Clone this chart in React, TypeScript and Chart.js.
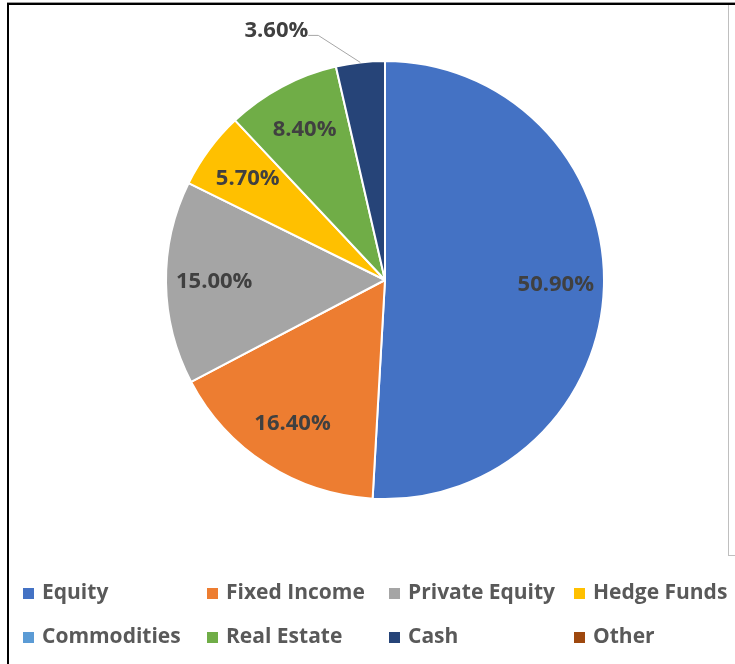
import React, { useEffect, useRef } from "react";
import { Chart, registerables } from "chart.js";

Chart.register(...registerables);

const categories = [
  "Equity",
  "Fixed Income",
  "Private Equity",
  "Hedge Funds",
  "Commodities",
  "Real Estate",
  "Cash",
  "Other",
];
const allocation = [50.9, 16.4, 15.0, 5.7, 0, 8.4, 3.6, 0];
const sliceColors = [
  "#4472C4",
  "#ED7D31",
  "#A5A5A5",
  "#FFC000",
  "#5B9BD5",
  "#70AD47",
  "#264478",
  "#9E480E",
];

const FONT = "'Open Sans', 'Noto Sans', sans-serif";
const LEGEND_COL_X = [23, 207, 389, 574];
const LEGEND_ROW_Y = [593, 637];
const LEGEND_PER_ROW = 4;

const sliceLabels = {
  id: "sliceLabels",
  afterDatasetsDraw(chart: any) {
    const ctx = chart.ctx;
    const meta = chart.getDatasetMeta(0);
    const data = chart.data.datasets[0].data as number[];
    ctx.save();
    ctx.font = `bold 22px ${FONT}`;
    ctx.fillStyle = "#404040";
    meta.data.forEach((arc: any, i: number) => {
      const v = data[i];
      if (!v) return;
      const { x, y, startAngle, endAngle, outerRadius } = arc.getProps(
        ["x", "y", "startAngle", "endAngle", "outerRadius"],
        true
      );
      const mid = (startAngle + endAngle) / 2;
      const text = v.toFixed(2) + "%";
      if (v < 5) {
        const ex = x + Math.cos(mid) * outerRadius;
        const ey = y + Math.sin(mid) * outerRadius;
        const bx = ex - 42;
        const by = ey - 27;
        ctx.strokeStyle = "#A6A6A6";
        ctx.lineWidth = 1;
        ctx.beginPath();
        ctx.moveTo(ex, ey);
        ctx.lineTo(bx, by);
        ctx.lineTo(bx - 10, by);
        ctx.stroke();
        ctx.textAlign = "right";
        ctx.textBaseline = "middle";
        ctx.fillText(text, bx - 10, by - 5);
      } else {
        const r = outerRadius * 0.78;
        ctx.textAlign = "center";
        ctx.textBaseline = "middle";
        ctx.fillText(text, x + Math.cos(mid) * r, y + Math.sin(mid) * r);
      }
    });
    ctx.restore();
  },
};

const gridLegend = {
  id: "gridLegend",
  afterDraw(chart: any) {
    const ctx = chart.ctx;
    const labels = chart.data.labels as string[];
    const colors = chart.data.datasets[0].backgroundColor as string[];
    ctx.save();
    ctx.font = `bold 21px ${FONT}`;
    ctx.textAlign = "left";
    ctx.textBaseline = "middle";
    labels.forEach((lab, i) => {
      const col = i % LEGEND_PER_ROW;
      const row = Math.floor(i / LEGEND_PER_ROW);
      const mx = LEGEND_COL_X[col];
      const my = LEGEND_ROW_Y[row];
      ctx.fillStyle = colors[i];
      ctx.fillRect(mx, my - 5, 11, 11);
      ctx.fillStyle = "#595959";
      ctx.fillText(lab, mx + 19, my);
    });
    ctx.restore();
  },
};

export default function App() {
  const canvasRef = useRef<HTMLCanvasElement | null>(null);

  useEffect(() => {
    if (!canvasRef.current) return;
    const chart = new Chart(canvasRef.current, {
      type: "pie",
      data: {
        labels: categories,
        datasets: [
          {
            data: allocation,
            backgroundColor: sliceColors,
            borderColor: "#FFFFFF",
            borderWidth: 2,
          },
        ],
      },
      options: {
        responsive: false,
        animation: false,
        devicePixelRatio: 1,
        layout: { padding: { top: 60, bottom: 164, left: 165, right: 130 } },
        plugins: {
          legend: { display: false },
          tooltip: { enabled: false },
        },
      },
      plugins: [sliceLabels, gridLegend],
    });
    return () => chart.destroy();
  }, []);

  return (
    <div
      style={{
        position: "absolute",
        left: 0,
        top: 0,
        width: 735,
        height: 664,
        background: "#FFFFFF",
        overflow: "hidden",
      }}
    >
      <canvas
        ref={canvasRef}
        width={735}
        height={664}
        style={{ position: "absolute", left: 0, top: 0, width: 735, height: 664 }}
      />
      <div style={{ position: "absolute", left: 7, top: 2, width: 728, height: 1, background: "#9a9a9a" }} />
      <div style={{ position: "absolute", left: 7, top: 3, width: 728, height: 2, background: "#000" }} />
      <div style={{ position: "absolute", left: 7, top: 3, width: 2, height: 661, background: "#000" }} />
      <div style={{ position: "absolute", left: 728, top: 5, width: 1, height: 551, background: "#BFBFBF" }} />
      <div style={{ position: "absolute", left: 728, top: 555, width: 7, height: 1, background: "#BFBFBF" }} />
    </div>
  );
}
